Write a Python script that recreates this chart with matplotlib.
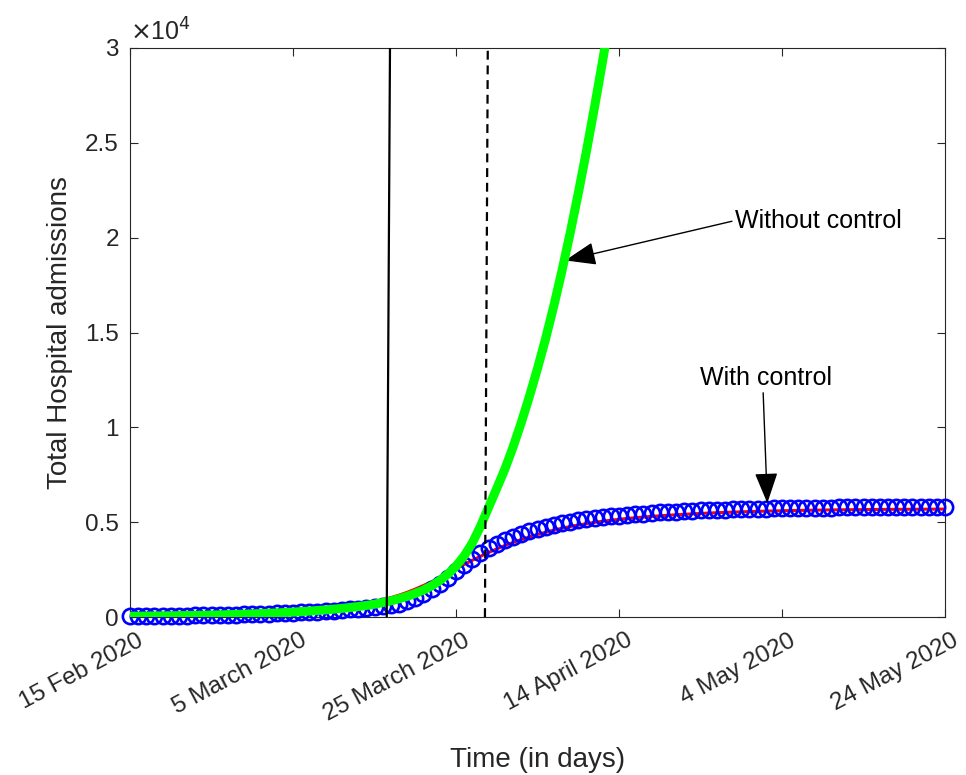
import matplotlib
matplotlib.use("Agg")
import matplotlib.pyplot as plt
from matplotlib.ticker import FuncFormatter
from matplotlib.transforms import ScaledTranslation

plt.rcParams['font.family'] = ['Liberation Sans', 'DejaVu Sans']

# days since 15 Feb 2020
days = list(range(0, 101))
green_days = list(range(0, 60))

# without control (green)
without_control = [40, 44, 48, 53, 58, 64, 70, 77, 85, 93,
                   102, 112, 123, 135, 148, 162, 178, 195, 214, 235,
                   258, 283, 311, 342, 376, 413, 454, 500, 552, 610,
                   675, 760, 850, 960, 1090, 1240, 1420, 1640, 1920, 2260,
                   2680, 3220, 3900, 4780, 5780, 6780, 7800, 8960, 10240, 11620,
                   13100, 14680, 16400, 18250, 20230, 22330, 24550, 26890, 29340, 31890]

# with control, model (blue circles)
with_control = [40, 45, 50, 55, 60, 66, 72, 78, 85, 92,
                 100, 108, 117, 127, 138, 150, 163, 177, 192, 208,
                 226, 245, 266, 289, 314, 341, 370, 402, 437, 476,
                 520, 570, 630, 710, 830, 1000, 1220, 1480, 1760, 2060,
                 2400, 2750, 3080, 3380, 3640, 3870, 4070, 4240, 4390, 4520,
                 4640, 4750, 4850, 4940, 5020, 5090, 5150, 5210, 5260, 5305,
                 5345, 5385, 5420, 5452, 5482, 5510, 5535, 5558, 5580, 5600,
                 5618, 5635, 5650, 5664, 5677, 5689, 5700, 5710, 5719, 5728,
                 5736, 5743, 5750, 5756, 5762, 5767, 5772, 5776, 5780, 5784,
                 5788, 5791, 5794, 5797, 5800, 5802, 5804, 5806, 5808, 5810, 5812]

# with control, fitted (red line)
with_control_fit = [46, 51, 55, 61, 67, 74, 81, 89, 98, 107,
                    117, 129, 141, 155, 170, 186, 205, 224, 246, 270,
                    297, 325, 358, 393, 432, 475, 522, 575, 635, 701,
                    800, 900, 1020, 1150, 1300, 1470, 1660, 1860, 2080, 2310,
                    2540, 2770, 2990, 3200, 3400, 3590, 3770, 3930, 4080, 4220,
                    4350, 4470, 4580, 4680, 4770, 4850, 4920, 4990, 5050, 5100,
                    5150, 5195, 5235, 5270, 5305, 5335, 5365, 5390, 5415, 5438,
                    5460, 5480, 5498, 5515, 5530, 5545, 5558, 5570, 5582, 5592,
                    5602, 5611, 5619, 5627, 5634, 5640, 5646, 5651, 5656, 5660,
                    5664, 5668, 5671, 5674, 5677, 5679, 5681, 5683, 5685, 5687, 5689]

# control start (solid) and second intervention (dashed)
control_x = [31.5, 31.9]
dashed_x = [43.55, 43.9]
vline_y = [0, 30000]

xticks = [0, 20, 40, 60, 80, 100]
xtick_labels = ['15 Feb 2020', '5 March 2020', '25 March 2020',
                '14 April 2020', '4 May 2020', '24 May 2020']
yticks = [0, 5000, 10000, 15000, 20000, 25000, 30000]

txt = '#262626'
fig = plt.figure(figsize=(9.66, 7.75), dpi=100)
ax = fig.add_axes([130/966, 1-617/775, 815/966, 569/775])

ax.plot(days, with_control_fit, color='#ff0000', lw=2.2, zorder=2)
ax.plot(days, with_control, 'o', mfc='none', mec='#0000ff', ms=11,
        mew=1.9, zorder=3, clip_on=False)
ax.plot(green_days, without_control, color='#00ff00', lw=6.5, zorder=4)
ax.plot(control_x, vline_y, color='black', lw=1.6, zorder=5)
ax.plot(dashed_x, vline_y, color='black', lw=1.6, dashes=(4, 2.6), zorder=5)

ax.set_xlim(0, 100)
ax.set_ylim(0, 30000)
ax.set_xticks(xticks)
ax.set_yticks(yticks)
ax.yaxis.set_major_formatter(FuncFormatter(lambda v, p: f'{v/1e4:g}'))
ax.tick_params(axis='y', labelsize=17.5, labelcolor=txt, pad=8)
ax.tick_params(direction='in', length=6, width=0.8, top=True, right=True,
               color=txt)
ax.tick_params(axis='x', pad=9)
ax.set_xticklabels(xtick_labels, rotation=28, ha='right',
                   rotation_mode='anchor', fontsize=17.5, color=txt)
# nudge the rotated date labels a little to the right (after tick_params)
shift = ScaledTranslation(7/100, 0, fig.dpi_scale_trans)
for lab in ax.get_xticklabels():
    lab.set_transform(lab.get_transform() + shift)
for s in ax.spines.values():
    s.set_color(txt)
    s.set_linewidth(0.8)

ax.text(0, 1.005, r'$\times$10$^4$', transform=ax.transAxes, fontsize=18,
        color=txt, ha='left', va='bottom')

ax.set_xlabel('Time (in days)', fontsize=20, color=txt)
ax.xaxis.set_label_coords(0.5, -0.228)
ax.set_ylabel('Total Hospital admissions', fontsize=20, color=txt)
ax.yaxis.set_label_coords(-0.070, 0.5)

arrow = dict(arrowstyle='-|>,head_length=0.8,head_width=0.3',
             mutation_scale=24, color='black', lw=1.0, shrinkA=0, shrinkB=0)
ax.annotate('Without control', xy=(53.4, 18800), xytext=(74.2, 20900),
            fontsize=18, ha='left', va='center',
            arrowprops=dict(arrow, relpos=(0, 0.5)))
ax.annotate('With control', xy=(78.2, 6000), xytext=(78.0, 12600),
            fontsize=18, ha='center', va='center',
            arrowprops=dict(arrow, relpos=(0.48, 0)))

fig.savefig('out.png', dpi=100)
